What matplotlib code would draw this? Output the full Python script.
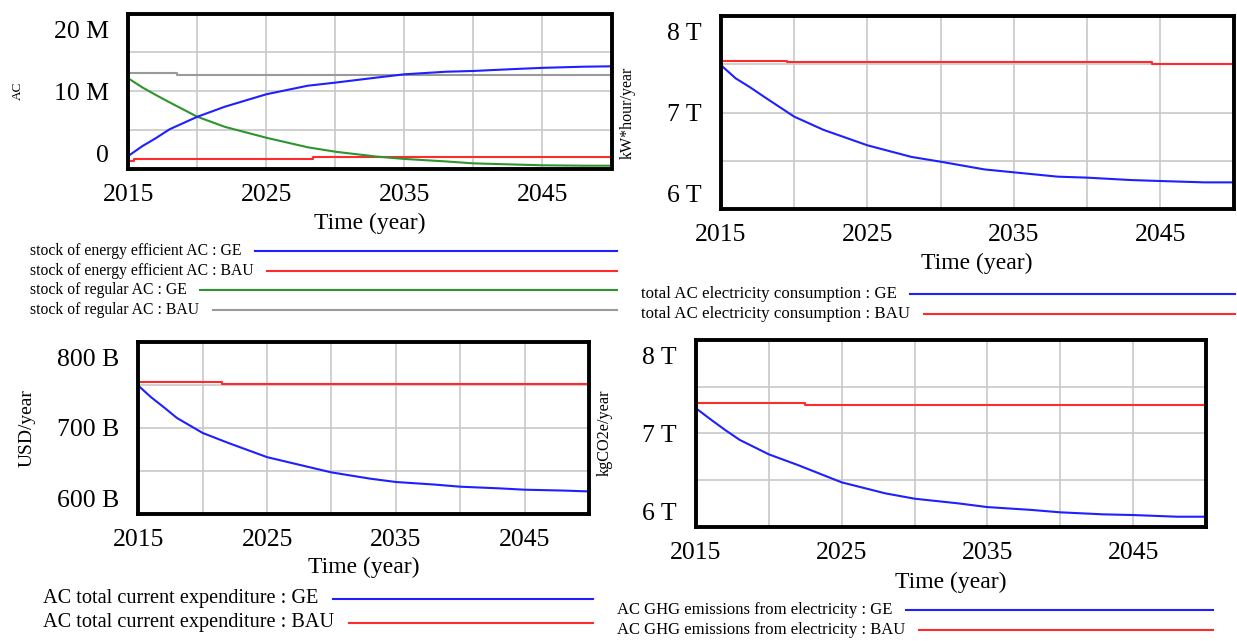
import matplotlib
matplotlib.use('Agg')
import matplotlib.pyplot as plt
from matplotlib.lines import Line2D
from matplotlib.transforms import ScaledTranslation

# ---------------- data ----------------
years = [2015, 2016, 2017, 2018, 2020, 2022, 2025, 2028, 2030, 2033, 2035,
         2038, 2040, 2043, 2045, 2048, 2050]

# Panel 1: stocks (million AC)
eff_ge = [1.65, 2.9, 3.95, 5.1, 6.7, 8.0, 9.6, 10.7, 11.1, 11.75, 12.17,
          12.5, 12.6, 12.85, 13.0, 13.15, 13.2]
reg_ge = [11.65, 10.5, 9.5, 8.55, 6.7, 5.4, 4.0, 2.77, 2.2, 1.57, 1.27,
          0.95, 0.7, 0.55, 0.45, 0.4, 0.4]
eff_bau_years = [2015, 2015.4, 2028.4, 2050]
eff_bau = [1.0, 1.22, 1.48, 1.48]
reg_bau_years = [2015, 2018.5, 2050]
reg_bau = [12.38, 12.12, 12.12]

# Panel 2: electricity consumption (T kWh/year)
elec_ge = [7.49, 7.354, 7.26, 7.157, 6.957, 6.82, 6.66, 6.54, 6.49, 6.41, 6.38,
           6.335, 6.325, 6.30, 6.29, 6.276, 6.276]
elec_bau_years = [2015, 2019.5, 2044.4, 2050]
elec_bau = [7.537, 7.52, 7.50, 7.50]

# Panel 3: expenditure (B USD/year)
exp_ge = [749.4, 735.8, 724, 711.7, 694.2, 682.5, 666, 655.3, 648.2, 640.9, 637,
          634, 631.5, 629.6, 628, 627, 626]
exp_bau_years = [2015, 2021.5, 2050]
exp_bau = [753.7, 751.4, 751.4]

# Panel 4: GHG emissions (T kgCO2e/year)
ghg_ge = [7.268, 7.15, 7.036, 6.93, 6.775, 6.66, 6.475, 6.357, 6.30, 6.25, 6.21,
          6.18, 6.154, 6.132, 6.125, 6.107, 6.107]
ghg_bau_years = [2015, 2022.5, 2050]
ghg_bau = [7.321, 7.304, 7.304]

x_ticks = [2015, 2020, 2025, 2030, 2035, 2040, 2045, 2050]
x_labels = ['2015', '', '2025', '', '2035', '', '2045', '']

# ---------------- figure ----------------
W, H = 1237, 641
plt.rcParams['font.family'] = ['Liberation Serif', 'DejaVu Serif']
fig = plt.figure(figsize=(W / 100, H / 100), dpi=100)

BLUE = '#1f1fff'
RED = '#ff2a2a'
GREEN = '#2e942e'
GRAY = '#9a9a9a'


def fx(px):
    return px / W


def fy(py):
    return 1 - py / H


def ax_at(l, t, r, b):
    return fig.add_axes([l / W, 1 - b / H, (r - l) / W, (b - t) / H])


def setup(ax, ylim, yticks, ylabels):
    ax.set_xlim(2015, 2050)
    ax.set_ylim(*ylim)
    ax.set_xticks(x_ticks)
    ax.set_xticklabels(x_labels)
    ax.set_yticks(yticks)
    ax.set_yticklabels(ylabels)
    ax.grid(True, color='#c8c8c8', lw=1.2, zorder=0)
    ax.set_axisbelow(True)
    ax.tick_params(length=0, labelsize=18.5)
    ax.tick_params(axis='x', pad=11)
    ax.tick_params(axis='y', pad=14)
    for s in ax.spines.values():
        s.set_linewidth(2.8)
        s.set_color('black')
        s.set_zorder(6)
    labs = ax.get_yticklabels()
    inset = 15.5 / 100.0
    labs[0].set_va('center_baseline')
    labs[0].set_transform(labs[0].get_transform() +
                          ScaledTranslation(0, inset, fig.dpi_scale_trans))
    labs[-1].set_va('center_baseline')
    labs[-1].set_transform(labs[-1].get_transform() +
                           ScaledTranslation(0, -inset, fig.dpi_scale_trans))


def text_px(x, y, s, size, **kw):
    return fig.text(fx(x), fy(y), s, fontsize=size, **kw)


renderer = fig.canvas.get_renderer()


def legend_row(x, y, s, size, color, xend, gap=14):
    t = text_px(x, y, s, size, ha='left', va='center')
    bb = t.get_window_extent(renderer=renderer)
    x0 = bb.x1 + gap  # display pixels
    fig.add_artist(Line2D([x0 / W, fx(xend)], [fy(y), fy(y)], color=color, lw=1.5,
                          transform=fig.transFigure))


LW = 1.5

# Panel 1
ax1 = ax_at(128.3, 13.5, 611.5, 168.8)
setup(ax1, (0, 20), [0, 5, 10, 15, 20], ['0', '', '10 M', '', '20 M'])
ax1.plot(reg_bau_years, reg_bau, color=GRAY, lw=LW, drawstyle='steps-post', zorder=2)
ax1.plot(eff_bau_years, eff_bau, color=RED, lw=LW, drawstyle='steps-post', zorder=3)
ax1.plot(years, reg_ge, color=GREEN, lw=LW, zorder=4)
ax1.plot(years, eff_ge, color=BLUE, lw=LW, zorder=5)
text_px(370, 223, 'Time (year)', 17, ha='center', va='center')
text_px(17.8, 91, 'AC', 9.5, ha='center', va='center', rotation=90)
legend_row(29.6, 251, 'stock of energy efficient AC : GE', 11.3, BLUE, 617)
legend_row(29.6, 271, 'stock of energy efficient AC : BAU', 11.3, RED, 617)
legend_row(29.6, 290, 'stock of regular AC : GE', 11.3, GREEN, 617)
legend_row(29.6, 310, 'stock of regular AC : BAU', 11.3, GRAY, 617)

# Panel 2
ax2 = ax_at(721, 16, 1233.5, 209)
setup(ax2, (6, 8), [6, 6.5, 7, 7.5, 8], ['6 T', '', '7 T', '', '8 T'])
ax2.plot(elec_bau_years, elec_bau, color=RED, lw=LW, drawstyle='steps-post', zorder=3)
ax2.plot(years, elec_ge, color=BLUE, lw=LW, zorder=4)
text_px(977, 263, 'Time (year)', 17, ha='center', va='center')
text_px(628, 113, 'kW*hour/year', 11.5, ha='center', va='center', rotation=90)
legend_row(640.5, 294, 'total AC electricity consumption : GE', 12.2, BLUE, 1235)
legend_row(640.5, 314, 'total AC electricity consumption : BAU', 12.2, RED, 1235)

# Panel 3
ax3 = ax_at(138.3, 342.3, 589, 513.7)
setup(ax3, (600, 800), [600, 650, 700, 750, 800], ['600 B', '', '700 B', '', '800 B'])
ax3.plot(exp_bau_years, exp_bau, color=RED, lw=LW, drawstyle='steps-post', zorder=3)
ax3.plot(years, exp_ge, color=BLUE, lw=LW, zorder=4)
text_px(364, 567, 'Time (year)', 17, ha='center', va='center')
text_px(27.6, 428, 'USD/year', 14, ha='center', va='center', rotation=90)
legend_row(42.6, 599, 'AC total current expenditure : GE', 14.6, BLUE, 593, gap=15)
legend_row(42.6, 623, 'AC total current expenditure : BAU', 14.6, RED, 593, gap=15)

# Panel 4
ax4 = ax_at(696, 340, 1206, 526.7)
setup(ax4, (6, 8), [6, 6.5, 7, 7.5, 8], ['6 T', '', '7 T', '', '8 T'])
ax4.plot(ghg_bau_years, ghg_bau, color=RED, lw=LW, drawstyle='steps-post', zorder=3)
ax4.plot(years, ghg_ge, color=BLUE, lw=LW, zorder=4)
text_px(951, 582, 'Time (year)', 17, ha='center', va='center')
text_px(605, 433, 'kgCO2e/year', 11.7, ha='center', va='center', rotation=90)
legend_row(617, 610, 'AC GHG emissions from electricity : GE', 12.0, BLUE, 1213, gap=14)
legend_row(617, 630, 'AC GHG emissions from electricity : BAU', 12.0, RED, 1213, gap=14)

fig.savefig('out.png', dpi=100)
